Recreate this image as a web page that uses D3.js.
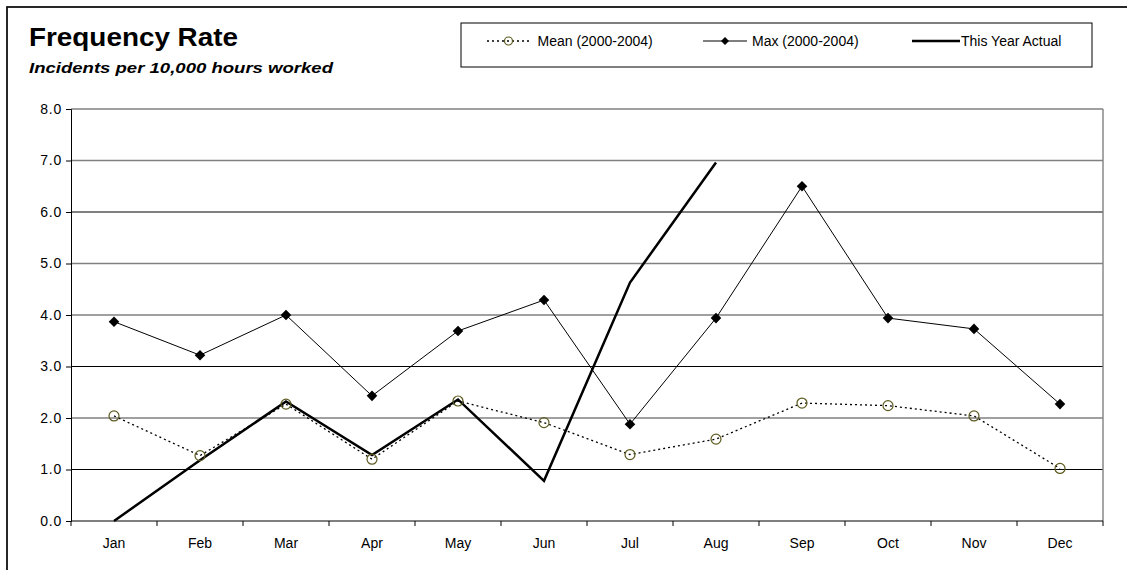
<!DOCTYPE html>
<html>
<head>
<meta charset="utf-8">
<script src="https://cdn.jsdelivr.net/npm/d3@7"></script>
<style>
  html, body { margin: 0; padding: 0; background: #fff; }
  svg { display: block; }
  text { font-family: "Liberation Sans", Arial, sans-serif; fill: #000; }
</style>
</head>
<body>
<svg id="chart" width="1127" height="570"></svg>
<script>
const months = ["Jan","Feb","Mar","Apr","May","Jun","Jul","Aug","Sep","Oct","Nov","Dec"];
const meanValues = [2.04, 1.27, 2.27, 1.20, 2.33, 1.91, 1.29, 1.59, 2.29, 2.24, 2.04, 1.02];
const maxValues  = [3.87, 3.22, 4.00, 2.43, 3.69, 4.29, 1.88, 3.94, 6.50, 3.94, 3.73, 2.27];
const actualMonths = ["Jan","Feb","Mar","Apr","May","Jun","Jul","Aug"];
const actualValues = [0.00, 1.18, 2.32, 1.28, 2.36, 0.78, 4.63, 6.96];
const yTicks = [0, 1, 2, 3, 4, 5, 6, 7, 8];
const seriesNames = ["Mean (2000-2004)", "Max (2000-2004)", "This Year Actual"];

const svg = d3.select("#chart");
const pLeft = 71, pRight = 1103, pTop = 109, pBottom = 521;

const x = d3.scaleBand().domain(months).range([pLeft, pRight]);
const y = d3.scaleLinear().domain([0, 8]).range([pBottom, pTop]);
const cx = m => x(m) + x.bandwidth() / 2;

// outer frame
svg.append("rect").attr("x", 7).attr("y", 7).attr("width", 1140).attr("height", 580)
  .attr("fill", "none").attr("stroke", "#111").attr("stroke-width", 1.8);

// title
svg.append("text").attr("x", 29).attr("y", 45.5)
  .attr("font-size", 25.5).attr("font-weight", "bold")
  .attr("textLength", 209).attr("lengthAdjust", "spacingAndGlyphs")
  .text("Frequency Rate");
svg.append("text").attr("x", 29).attr("y", 73)
  .attr("font-size", 15.5).attr("font-weight", "bold").attr("font-style", "italic")
  .attr("textLength", 304).attr("lengthAdjust", "spacingAndGlyphs")
  .text("Incidents per 10,000 hours worked");

// gridlines
const gridColor = v => (v === 1 || v === 3 || v === 6) ? "#000" : "#808080";
svg.append("g").selectAll("line").data(yTicks.filter(v => v > 0)).join("line")
  .attr("x1", pLeft).attr("x2", pRight)
  .attr("y1", d => y(d)).attr("y2", d => y(d))
  .attr("stroke", d => gridColor(d)).attr("stroke-width", d => gridColor(d) === "#000" ? 1 : 1.4);

// right border of plot area
svg.append("line").attr("x1", pRight).attr("x2", pRight).attr("y1", pTop).attr("y2", pBottom)
  .attr("stroke", "#808080").attr("stroke-width", 1.4);

// y axis
const yAxis = d3.axisLeft(y).tickValues(yTicks).tickFormat(d3.format(".1f")).tickSize(5).tickPadding(4);
const gy = svg.append("g").attr("transform", `translate(${pLeft},0)`).call(yAxis);
gy.select(".domain").attr("stroke", "#000");
gy.selectAll(".tick line").attr("stroke", "#000");
gy.selectAll(".tick text").attr("font-size", 14).attr("letter-spacing", "0.8px")
  .attr("font-family", "'Liberation Sans', Arial, sans-serif").attr("fill", "#000");

// x axis
const xAxis = d3.axisBottom(x).tickSize(0).tickPadding(17);
const gx = svg.append("g").attr("transform", `translate(0,${pBottom})`).call(xAxis);
gx.select(".domain").attr("stroke", "#000").attr("d", `M${pLeft},0H${pRight}`);
gx.selectAll(".tick text").attr("font-size", 14)
  .attr("font-family", "'Liberation Sans', Arial, sans-serif").attr("fill", "#000");
const boundaries = months.map(m => x(m)).concat([pRight]);
gx.append("g").selectAll("line").data(boundaries).join("line")
  .attr("x1", d => d).attr("x2", d => d).attr("y1", 0).attr("y2", 5)
  .attr("stroke", "#000");

const plot = svg.append("g");

const lineM = d3.line().x((d, i) => cx(months[i])).y(d => y(d));
// Max series
plot.append("path").datum(maxValues).attr("d", lineM)
  .attr("fill", "none").attr("stroke", "#000").attr("stroke-width", 1);

// Mean series
plot.append("path").datum(meanValues).attr("d", lineM)
  .attr("fill", "none").attr("stroke", "#000").attr("stroke-width", 1.3)
  .attr("stroke-dasharray", "2,3");

// This year actual
const lineAct = d3.line().x((d, i) => cx(actualMonths[i])).y(d => y(d));
plot.append("path").datum(actualValues).attr("d", lineAct)
  .attr("fill", "none").attr("stroke", "#000").attr("stroke-width", 2.5);

// markers
const diamond = d3.symbol().type(d3.symbolSquare).size(56);
plot.append("g").selectAll("path").data(maxValues).join("path")
  .attr("d", diamond)
  .attr("transform", (d, i) => `translate(${cx(months[i])},${y(d)}) rotate(45)`)
  .attr("fill", "#000");

plot.append("g").selectAll("circle").data(meanValues).join("circle")
  .attr("cx", (d, i) => cx(months[i])).attr("cy", d => y(d)).attr("r", 5)
  .attr("fill", "none").attr("stroke", "#5c5a1e").attr("stroke-width", 1.2);

// legend
const lg = svg.append("g");
lg.append("rect").attr("x", 461).attr("y", 23).attr("width", 631).attr("height", 44)
  .attr("fill", "#fff").attr("stroke", "#000").attr("stroke-width", 1);
const ly = 41;
const items = [
  { x1: 487, x2: 530, text: 537.5 },
  { x1: 703, x2: 747, text: 752 },
  { x1: 912, x2: 960, text: 961 }
];
lg.append("line").attr("x1", items[0].x1).attr("x2", items[0].x2).attr("y1", ly).attr("y2", ly)
  .attr("stroke", "#000").attr("stroke-width", 1.3).attr("stroke-dasharray", "2,3");
lg.append("circle").attr("cx", (items[0].x1 + items[0].x2) / 2).attr("cy", ly).attr("r", 4)
  .attr("fill", "none").attr("stroke", "#5c5a1e").attr("stroke-width", 1.2);
lg.append("line").attr("x1", items[1].x1).attr("x2", items[1].x2).attr("y1", ly).attr("y2", ly)
  .attr("stroke", "#000").attr("stroke-width", 1);
lg.append("path").attr("d", d3.symbol().type(d3.symbolSquare).size(32)())
  .attr("transform", `translate(${(items[1].x1 + items[1].x2) / 2},${ly}) rotate(45)`).attr("fill", "#000");
lg.append("line").attr("x1", items[2].x1).attr("x2", items[2].x2).attr("y1", ly).attr("y2", ly)
  .attr("stroke", "#000").attr("stroke-width", 2.5);
lg.selectAll("text.lt").data(seriesNames).join("text").attr("class", "lt")
  .attr("x", (d, i) => items[i].text).attr("y", ly + 5)
  .attr("font-size", 14).text(d => d);
</script>
</body>
</html>
